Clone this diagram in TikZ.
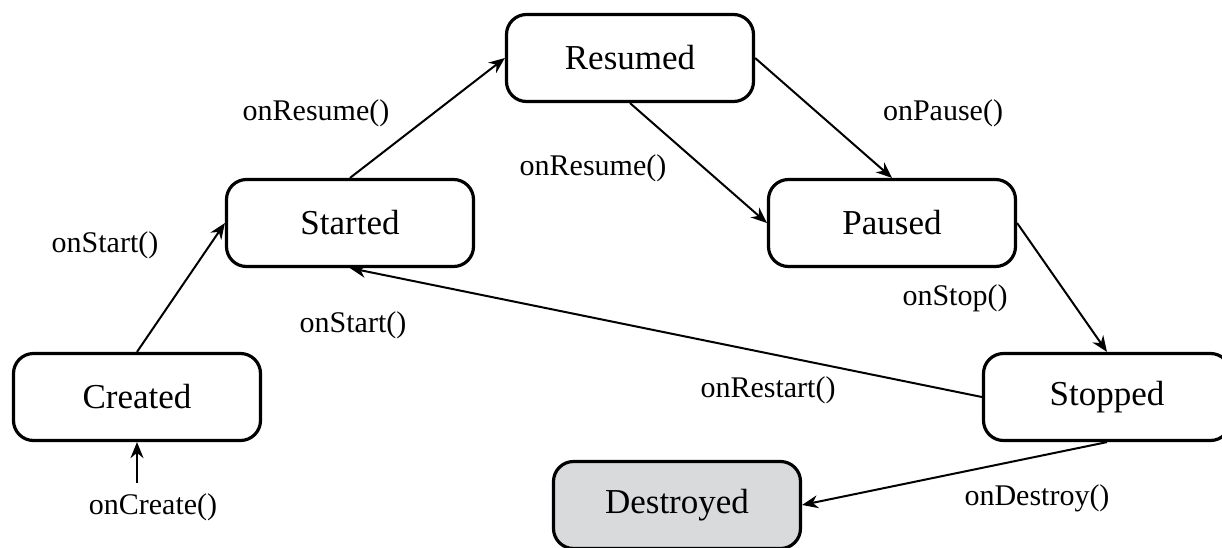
\documentclass[tikz,border=0pt]{standalone}
\usepackage{fontspec}
\setmainfont{Liberation Serif}
\usetikzlibrary{arrows.meta}
\definecolor{endgray}{HTML}{D9DADC}
\begin{document}
\begin{tikzpicture}[x=0.5pt, y=-0.5pt, line width=1pt, >={Stealth[length=8pt,width=6.5pt]},
	main/.style = {draw, line width=1.6pt, rounded corners=10pt, minimum width=123.5pt, minimum height=43.5pt, font=\fontsize{17.5}{20}\selectfont},
	lbl/.style = {font=\fontsize{15}{18}\selectfont}]

		\useasboundingbox (0,0) rectangle (1222,547);

		\node[main] (created) at (137,397) {Created};
		\node[main] (started) at (350,223) {Started};
		\node[main] (resumed) at (630,58) {Resumed};
		\node[main] (paused) at (892,223) {Paused};
		\node[main] (stopped) at (1107,397) {Stopped};
		\node[main, fill=endgray] (destroyed) at (677,505) {Destroyed};
		\coordinate (start) at (137,483);

		\node[lbl] (l1) at (153,507) {onCreate()};
		\node[lbl] (l2) at (105,245) {onStart()};
		\node[lbl] (l3) at (316,113) {onResume()};
		\node[lbl] (l4) at (593,168) {onResume()};
		\node[lbl] (l5) at (943,113) {onPause()};
		\node[lbl] (l6) at (955,298) {onStop()};
		\node[lbl] (l7) at (353,325) {onStart()};
		\node[lbl] (l8) at (768,390) {onRestart()};
		\node[lbl] (l9) at (1037,498) {onDestroy()};

		\draw[->] (start) -- (created);
		\draw[->] (created.north) -- (started.west);
		\draw[->] (started.north) -- (resumed.west);
		\draw[->] (resumed.south) -- (paused.west);
		\draw[->] (resumed.east) -- (paused.north);
		\draw[->] (paused.east) -- (stopped.north);
		\draw[->] (stopped.west) -- (started.south);
		\draw[->] (stopped.south) -- (destroyed.east);
	\end{tikzpicture}
\end{document}
